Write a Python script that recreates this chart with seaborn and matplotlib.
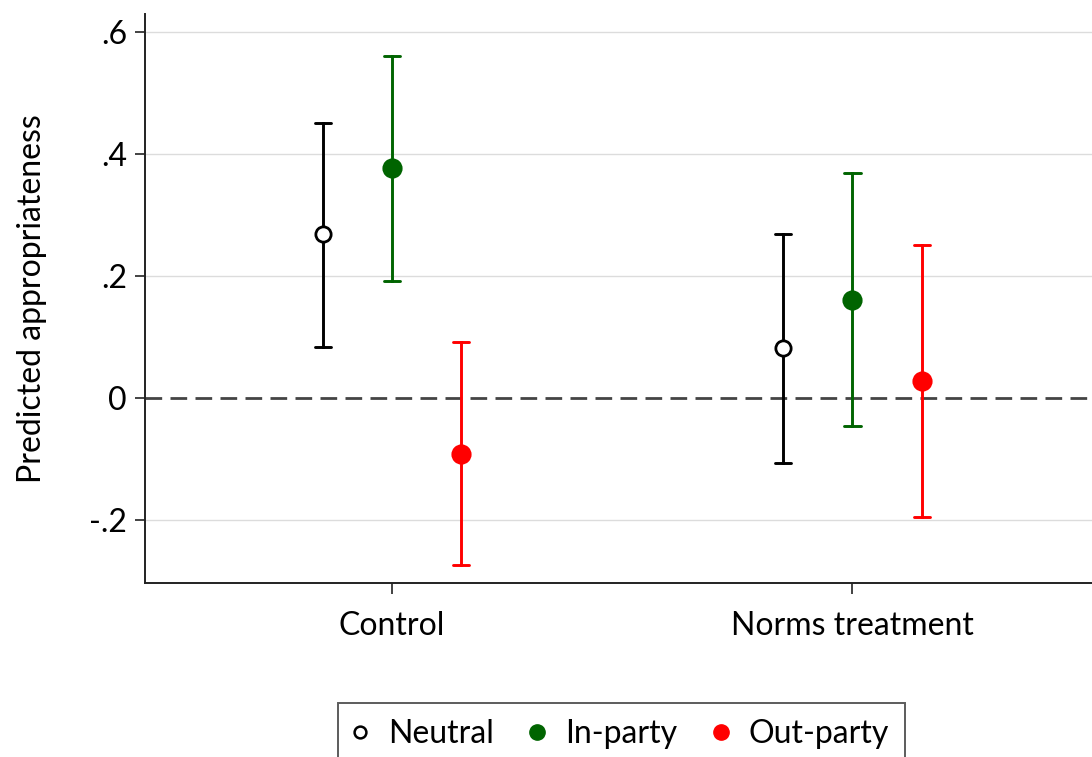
import numpy as np
import pandas as pd
import matplotlib
matplotlib.use("Agg")
import matplotlib.pyplot as plt
from matplotlib.lines import Line2D
import seaborn as sns

# Predicted appropriateness with 95% confidence bounds
conditions = ["Control", "Norms treatment"]
groups = ["Neutral", "In-party", "Out-party"]
estimate = {
    "Neutral":   [0.269, 0.082],
    "In-party":  [0.377, 0.161],
    "Out-party": [-0.092, 0.028],
}
lower = {
    "Neutral":   [0.084, -0.107],
    "In-party":  [0.192, -0.046],
    "Out-party": [-0.274, -0.195],
}
upper = {
    "Neutral":   [0.452, 0.269],
    "In-party":  [0.561, 0.369],
    "Out-party": [0.092, 0.251],
}
colors = {"Neutral": "black", "In-party": "#006400", "Out-party": "#ff0000"}
yticks = [-0.2, 0, 0.2, 0.4, 0.6]
ytick_labels = ["-.2", "0", ".2", ".4", ".6"]

# Long table: lower bound, estimate, upper bound per cell; the median is the
# estimate and the full-range interval spans the confidence bounds.
rows = []
for g in groups:
    for i, c in enumerate(conditions):
        for v in (lower[g][i], estimate[g][i], upper[g][i]):
            rows.append({"condition": c, "group": g, "value": v})
df = pd.DataFrame(rows)

sns.set_theme(style="white")
plt.rcParams["font.family"] = ["Lato", "DejaVu Sans"]
plt.rcParams["text.color"] = "black"
plt.rcParams["xtick.color"] = "black"
plt.rcParams["ytick.color"] = "black"
plt.rcParams["axes.labelcolor"] = "black"

fig = plt.figure(figsize=(10.92, 7.57), dpi=100)
ax = fig.add_axes([0.1328, 0.2299, 0.8672, 0.7516])

ax.axhline(0, color="#444444", lw=2, ls=(0, (6, 3)), zorder=1)
for t in [-0.2, 0.2, 0.4, 0.6]:
    ax.axhline(t, color="#dcdcdc", lw=1, zorder=0)

sns.pointplot(
    data=df, x="condition", y="value", hue="group",
    order=conditions, hue_order=groups, palette=colors,
    estimator="median", errorbar=("pi", 100),
    dodge=0.3, linestyle="none", markers="o",
    markersize=12.5, err_kws={"linewidth": 2.1}, capsize=0.035,
    legend=False, ax=ax,
)

# Hollow marker for the neutral group
for line in ax.lines:
    if line.get_marker() == "o" and matplotlib.colors.same_color(line.get_color(), "black"):
        line.set_markerfacecolor("white")
        line.set_markeredgewidth(2.0)
        line.set_markersize(11)
        line.set_zorder(5)

ax.set_xlim(-0.536, 1.52)
ax.set_ylim(-0.303, 0.63)
ax.set_yticks(yticks)
ax.set_yticklabels(ytick_labels)
ax.set_xlabel("")
ax.set_ylabel("Predicted appropriateness", fontsize=23, labelpad=30)

for side in ["top", "right"]:
    ax.spines[side].set_visible(False)
for side in ["left", "bottom"]:
    ax.spines[side].set_color("#222222")
    ax.spines[side].set_linewidth(1.4)

ax.tick_params(axis="y", labelsize=23, length=7, width=1.2, pad=6,
               left=True, color="#222222")
ax.tick_params(axis="x", labelsize=23, length=8, width=1.2, pad=12,
               bottom=True, color="#222222")

handles = [
    Line2D([], [], ls="none", marker="o", markersize=8.5, markerfacecolor="white",
           markeredgecolor="black", markeredgewidth=1.8),
    Line2D([], [], ls="none", marker="o", markersize=11, color=colors["In-party"]),
    Line2D([], [], ls="none", marker="o", markersize=11, color=colors["Out-party"]),
]
leg = fig.legend(handles, groups, loc="upper left", bbox_to_anchor=(0.3095, 0.071),
                 ncol=3, fontsize=23, frameon=True, fancybox=False,
                 handlelength=0.4, handletextpad=0.68, columnspacing=1.15,
                 borderpad=0.5, borderaxespad=0)
leg.get_frame().set_edgecolor("#333333")
leg.get_frame().set_linewidth(1.4)

fig.savefig("out.png", dpi=100)
